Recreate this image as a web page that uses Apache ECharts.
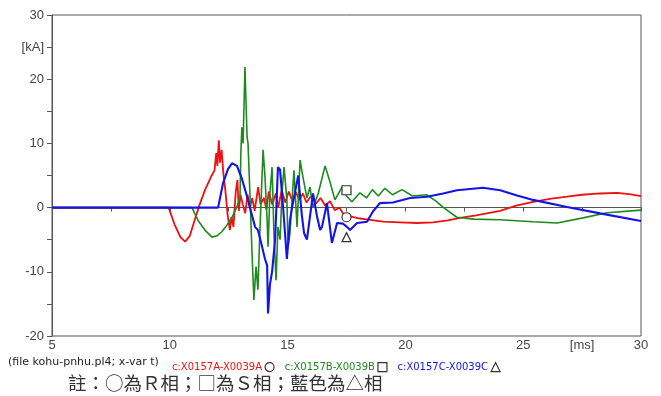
<!DOCTYPE html>
<html>
<head>
<meta charset="utf-8">
<script src="https://cdn.jsdelivr.net/npm/echarts@6/dist/echarts.min.js"></script>
<style>
  html, body { margin: 0; padding: 0; background: #fff; }
  #main { width: 661px; height: 396px; }
</style>
</head>
<body>
<div id="main"></div>
<script>
// [t (ms), current (kA)]
var phaseA = [
  [5, 0], [9.95, 0], [10.2, -2.6], [10.45, -4.6], [10.65, -5.3], [10.85, -4.4], [11.05, -2], [11.25, 0.3],
  [11.5, 2.8], [11.75, 4.8], [11.9, 5.8], [11.97, 8.5], [12.02, 6.5], [12.08, 10.5], [12.13, 7], [12.2, 9],
  [12.27, 5.5], [12.35, 3], [12.45, -1], [12.55, -3.5], [12.62, -1.5], [12.7, -3], [12.8, 2.5], [12.87, 4.3],
  [12.93, -0.5], [13.0, 2], [13.1, 0.5], [13.2, -0.9], [13.3, 2], [13.4, 0], [13.5, 1.5], [13.6, -0.5],
  [13.75, 3.2], [13.85, 0.5], [14.0, 1.5], [14.1, -0.3], [14.2, 2.5], [14.35, 0.5], [14.5, 2.2], [14.6, 0],
  [14.75, 2.7], [14.9, 0.8], [15.05, 2.5], [15.2, 1], [15.35, 2.4], [15.5, 1.2], [15.65, 2.2], [15.8, 0.8],
  [16, 1.8], [16.2, 0.6], [16.4, 1.5], [16.6, 0.3], [16.8, 1], [17, -0.4], [17.2, 0], [17.4, -1.2],
  [17.6, -1.3], [17.8, -1.5], [18.07, -1.7], [18.5, -1.9], [19.05, -2.2], [19.77, -2.3], [20.5, -2.4],
  [21.17, -2.3], [21.8, -2], [22.32, -1.6], [23, -1.2], [24.02, -0.5], [24.7, 0.3], [25.42, 0.9],
  [26.2, 1.4], [26.86, 1.7], [27.5, 2], [28.26, 2.2], [28.98, 2.3], [29.5, 2.1], [30, 1.8]
];
var phaseB = [
  [5, 0], [10.94, 0], [11.2, -2], [11.49, -3.5], [11.79, -4.6], [12.0, -4.4], [12.2, -3.8], [12.43, -2.7],
  [12.64, -1.5], [12.85, 0.1], [12.98, 1.7], [13.02, 9], [13.06, 12.5], [13.11, 10], [13.19, 21.9],
  [13.28, 11], [13.32, 10], [13.4, 2.2], [13.49, -7.1], [13.57, -14.4], [13.66, -9.2], [13.74, -12.8],
  [13.83, -3], [13.96, 9], [14.04, 4.8], [14.13, -1.9], [14.17, -6.1], [14.25, 2.2], [14.34, 6.3],
  [14.42, -4], [14.51, -11.3], [14.59, -3], [14.68, -5], [14.76, 2.2], [14.85, 6.3], [14.97, 1.2],
  [15.02, -6.1], [15.1, -4], [15.19, 1.2], [15.27, 5.8], [15.4, -3], [15.53, 7.4], [15.65, 4.8],
  [15.82, 1.5], [15.95, 3.2], [16.08, 0], [16.3, 2.2], [16.59, 6.5], [16.8, 4], [17.01, 1.2],
  [17.31, 3.2], [17.5, 1.8], [17.73, 0.9], [18.07, 2.3], [18.35, 1.5], [18.6, 2.8], [18.85, 1.8],
  [19.13, 3.0], [19.45, 2.0], [19.86, 2.8], [20.3, 1.8], [20.9, 2.0], [21.3, 1.0], [21.58, 0.1],
  [22.18, -1.5], [22.9, -1.8], [24.02, -1.9], [25.42, -2.2], [26.44, -2.4], [27.54, -1.6],
  [28.56, -0.8], [30, -0.4]
];
var phaseC = [
  [5, 0], [12.05, 0], [12.26, 3.8], [12.47, 6.0], [12.64, 6.9], [12.85, 6.5], [13.06, 4.5], [13.32, 1.2],
  [13.4, 0], [13.62, -3], [13.74, -3.5], [13.91, -6], [14.04, -8], [14.13, -9], [14.17, -16.5],
  [14.25, -12], [14.34, -10], [14.47, -5], [14.59, 6.3], [14.68, 5.9], [14.76, 2.3], [14.81, 0],
  [14.97, -8], [15.1, -2], [15.19, 0], [15.31, 2.3], [15.45, 5], [15.6, -1], [15.7, -4], [15.82, -5],
  [16.08, 2.2], [16.25, -1.4], [16.38, -3.5], [16.46, -3], [16.67, 0.7], [16.88, -5.5], [17.1, -2.4],
  [17.35, -2.5], [17.52, -3], [17.65, -3.5], [17.95, -2.4], [18.37, -2.2], [18.62, -0.6], [18.92, 0.7],
  [19.47, 0.8], [20.2, 1.5], [20.92, 1.7], [21.6, 2.2], [22.19, 2.7], [23.29, 3.1], [24.02, 2.7],
  [24.74, 1.9], [25.42, 1.2], [26.86, 0.1], [28.26, -0.9], [30, -2.1]
];
var seriesNames = ['c:X0157A-X0039A', 'c:X0157B-X0039B', 'c:X0157C-X0039C'];
var markerAt = [[17.5, -1.5], [17.5, 2.7], [17.5, -4.6]];

var chart = echarts.init(document.getElementById('main'));

var colors = ['#ee1111', '#1e8a1e', '#1414e6'];
var widths = [1.8, 1.6, 2.1];
var marks = ['circle', 'rect', 'triangle'];
var traces = [phaseA, phaseB, phaseC];

var markerStyle = {
  color: '#fff',
  borderColor: '#333',
  borderWidth: 1.2
};

var series = traces.map(function (d, i) {
  return {
    name: seriesNames[i],
    type: 'line',
    data: d,
    showSymbol: false,
    symbol: 'none',
    lineStyle: { color: colors[i], width: widths[i] },
    itemStyle: { color: colors[i] },
    markPoint: {
      symbol: marks[i],
      symbolSize: 9,
      itemStyle: markerStyle,
      label: { show: false },
      data: [{ coord: markerAt[i] }]
    }
  };
});

var option = {
  animation: false,
  grid: {
    left: 52,
    right: 20,
    top: 15,
    bottom: 60,
    show: true,
    borderColor: '#555',
    borderWidth: 1
  },
  legend: {
    left: 167,
    top: 357,
    align: 'right',
    itemWidth: 9,
    itemHeight: 9,
    itemGap: 10,
    textStyle: { fontSize: 10, fontFamily: 'DejaVu Sans', padding: [0, -2, 0, 0] },
    data: seriesNames.map(function (n, i) {
      return {
        name: n,
        icon: marks[i],
        itemStyle: markerStyle,
        textStyle: { color: colors[i] }
      };
    })
  },
  graphic: [
    {
      type: 'text',
      left: 8,
      top: 357,
      style: {
        text: '(file kohu-pnhu.pl4; x-var t)',
        fill: '#222',
        font: '11px "DejaVu Sans"'
      }
    },
    {
      type: 'text',
      left: 68,
      top: 374,
      style: {
        text: '註：○為Ｒ相；□為Ｓ相；藍色為△相',
        fill: '#333',
        font: '18.5px "Noto Sans CJK TC"'
      }
    }
  ],
  xAxis: {
    type: 'value',
    min: 5,
    max: 30,
    interval: 2.5,
    axisLine: { lineStyle: { color: '#555' } },
    axisTick: { length: 4, lineStyle: { color: '#555' } },
    splitLine: { show: false },
    axisLabel: {
      margin: 3,
      color: '#444',
      fontSize: 13,
      fontFamily: 'Arial',
      formatter: function (v) {
        if (v === 27.5) return '[ms]';
        if (v % 5 === 0) return v;
        return '';
      }
    }
  },
  yAxis: {
    type: 'value',
    min: -20,
    max: 30,
    interval: 5,
    axisLine: { show: true, lineStyle: { color: '#555' } },
    axisTick: { show: true, length: 5, lineStyle: { color: '#555' } },
    splitLine: { show: false },
    axisLabel: {
      margin: 8,
      color: '#444',
      fontSize: 13,
      fontFamily: 'Arial',
      formatter: function (v) {
        if (v === 25) return '[kA]';
        if (v % 10 === 0) return v;
        return '';
      }
    }
  },
  series: series
};

chart.setOption(option);
</script>
</body>
</html>
